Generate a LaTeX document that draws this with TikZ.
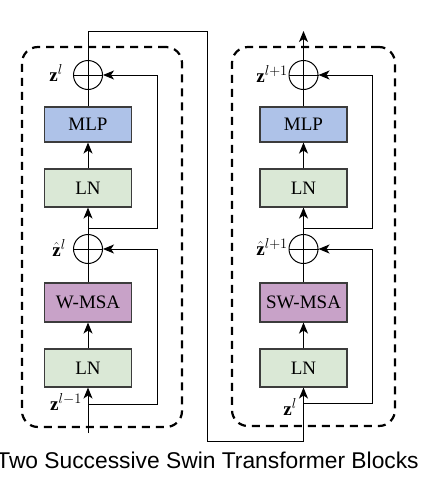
\documentclass[tikz,border=0pt]{standalone}
\usepackage{fontspec}
\setmainfont{Liberation Serif}
\newfontfamily\capfont{Liberation Sans}
\usetikzlibrary{arrows.meta,calc}
\definecolor{mlpcol}{RGB}{174,194,232}
\definecolor{lncol}{RGB}{218,232,214}
\definecolor{msacol}{RGB}{200,162,200}
\definecolor{edgecol}{RGB}{60,60,60}
\begin{document}
\begin{tikzpicture}[x=1pt,y=-1pt,
  blk/.style={draw=edgecol, line width=1.1pt, minimum width=87pt, minimum height=37pt, inner sep=0pt, font=\fontsize{19}{22}\selectfont},
  mlpbox/.style={blk, fill=mlpcol, minimum height=35pt},
  lnbox/.style={blk, fill=lncol, minimum height=38pt},
  msabox/.style={blk, fill=msacol, minimum height=39pt},
  addc/.style={circle, draw, line width=1pt, minimum size=29pt, inner sep=0pt},
  conn/.style={line width=1pt},
  arr/.style={conn, -{Stealth[length=11pt,width=9pt,inset=3pt]}},
  dbox/.style={draw, line width=2.2pt, rounded corners=16pt, dash pattern=on 8pt off 6pt, inner sep=0pt},
  lbl/.style={font=\fontsize{19}{21}\selectfont, inner sep=0pt}
]
\useasboundingbox (0,0) rectangle (430,482);

% dashed containers
\node[dbox, minimum width=160pt, minimum height=380pt] (blkA) at (102,237) {};
\node[dbox, minimum width=163pt, minimum height=379pt] (blkB) at (313.5,236.5) {};

% left block
\node[addc] (cA1) at (88,75) {};
\node[mlpbox] (mlpA) at (88,124.5) {MLP};
\node[lnbox] (lnA2) at (88,188) {LN};
\node[addc] (cA2) at (88,249) {};
\node[msabox] (msaA) at (88,302.5) {W-MSA};
\node[lnbox] (lnA1) at (88,368) {LN};

% right block
\node[addc] (cB1) at (303.5,75) {};
\node[mlpbox] (mlpB) at (303.5,124.5) {MLP};
\node[lnbox] (lnB2) at (303.5,188) {LN};
\node[addc] (cB2) at (303.5,249) {};
\node[msabox] (msaB) at (303.5,302.5) {SW-MSA};
\node[lnbox] (lnB1) at (303.5,368) {LN};

% coordinates
\coordinate (inA) at (88,433);
\coordinate (brA1) at (88,404);
\coordinate (skA1) at (157,404);
\coordinate (brA2) at (88,228);
\coordinate (skA2) at (157,228);
\coordinate (tA) at (88,31);
\coordinate (tB) at (207,31);
\coordinate (bB) at (207,441);
\coordinate (bC) at (303.5,441);
\coordinate (brB1) at (303.5,403);
\coordinate (skB1) at (372,403);
\coordinate (brB2) at (303.5,228);
\coordinate (skB2) at (372,228);
\coordinate (outB) at (303.5,31);

% plus signs
\foreach \c in {cA1,cA2,cB1,cB2}{
  \draw[conn] (\c.west) -- (\c.east) (\c.north) -- (\c.south);
}

% left connectors
\draw[arr] (inA) -- (lnA1.south);
\draw[arr] (lnA1) -- (msaA);
\draw[conn] (msaA.north) -- (cA2.south);
\draw[arr] (cA2.north) -- (lnA2.south);
\draw[arr] (lnA2) -- (mlpA);
\draw[conn] (mlpA.north) -- (cA1.south);
\draw[arr] (brA1) -- (skA1) |- (cA2.east);
\draw[arr] (brA2) -- (skA2) |- (cA1.east);

% link between blocks
\draw[arr] (cA1.north) -- (tA) -- (tB) -- (bB) -- (bC) -- (lnB1.south);

% right connectors
\draw[arr] (lnB1) -- (msaB);
\draw[conn] (msaB.north) -- (cB2.south);
\draw[arr] (cB2.north) -- (lnB2.south);
\draw[arr] (lnB2) -- (mlpB);
\draw[conn] (mlpB.north) -- (cB1.south);
\draw[arr] (brB1) -- (skB1) |- (cB2.east);
\draw[arr] (brB2) -- (skB2) |- (cB1.east);
\draw[arr] (cB1.north) -- (outB);

% labels
\node[lbl, anchor=base east] (lzA1) at (63,81) {$\mathbf{z}^l$};
\node[lbl, anchor=base east] (lzA2) at (66,256) {$\hat{\mathbf{z}}^l$};
\node[lbl, anchor=base east] (lzA0) at (82,410) {$\mathbf{z}^{l-1}$};
\node[lbl, anchor=base east] (lzB1) at (288,82) {$\mathbf{z}^{l+1}$};
\node[lbl, anchor=base east] (lzB2) at (288,255) {$\hat{\mathbf{z}}^{l+1}$};
\node[lbl, anchor=base east] (lzB0) at (297,415) {$\mathbf{z}^l$};

% caption
\node[font=\capfont\fontsize{22.8}{27}\selectfont, anchor=base, inner sep=0pt] (cap) at (207.5,468) {Two Successive Swin Transformer Blocks};
\end{tikzpicture}
\end{document}
